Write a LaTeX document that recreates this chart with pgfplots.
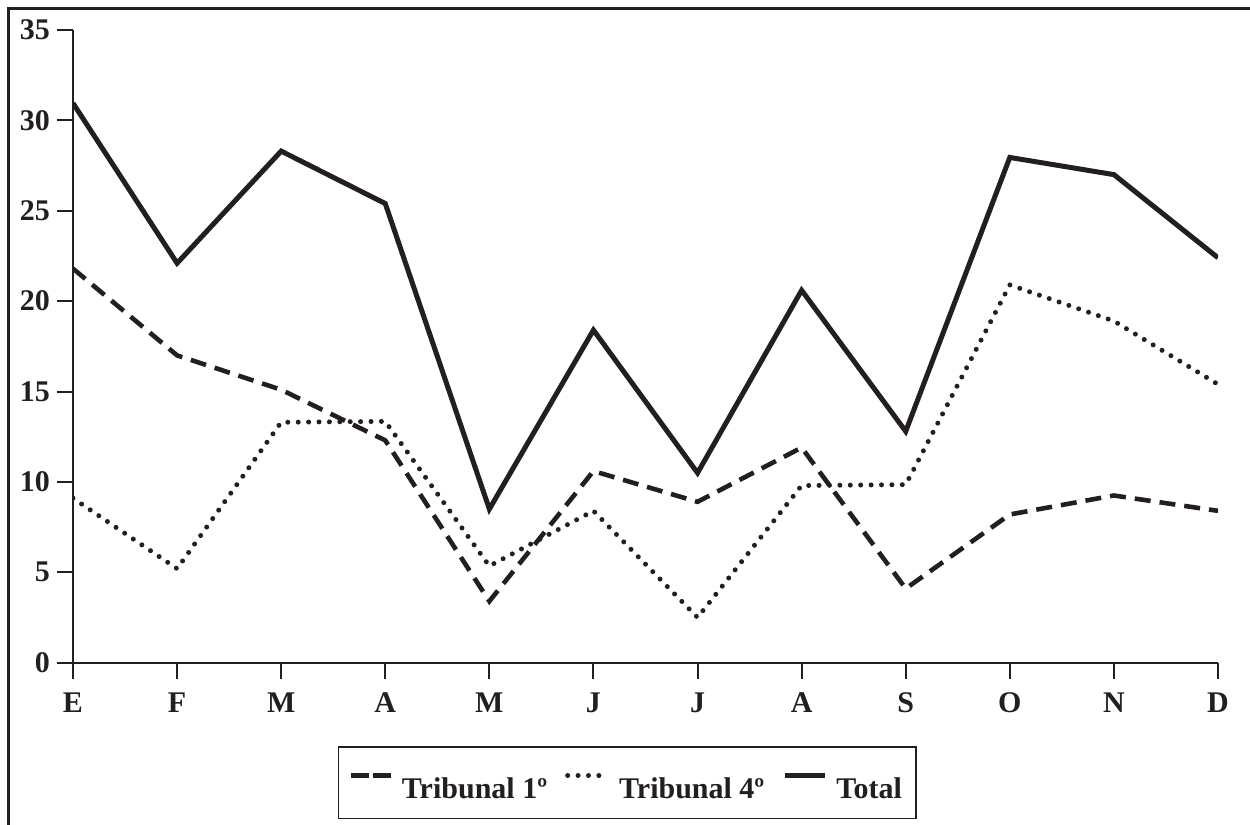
\documentclass[border=0pt]{standalone}
\usepackage{pgfplots}
\pgfplotsset{compat=1.18}
\usepackage{fontspec}
\setmainfont{Liberation Serif}
\definecolor{ink}{RGB}{35,31,32}
\begin{document}
\begin{tikzpicture}
\path[use as bounding box] (0,0) rectangle (625pt,-412.5pt);
\draw[ink,line width=1.1pt] (4.2pt,-420pt) -- (4.2pt,-4.2pt) -- (630pt,-4.2pt);
\begin{axis}[
  at={(36.5pt,-331.35pt)}, anchor=origin,
  scale only axis, width=572.5pt, height=316.35pt,
  xmin=0, xmax=11, ymin=0, ymax=35,
  axis lines=left,
  axis line style={-, ink, line width=1pt},
  every tick/.style={ink, line width=1pt},
  tick align=outside,
  major tick length=8pt,
  xtick={0,...,11},
  xticklabels={E,F,M,A,M,J,J,A,S,O,N,D},
  ytick={0,5,...,35},
  tick label style={font=\fontsize{15}{18}\selectfont\bfseries, text=ink},
  xticklabel style={yshift=-3.5pt},
  yticklabel style={xshift=0pt},
  /pgf/number format/assume math mode=true,
  legend columns=-1,
  legend style={at={(0.484,-0.132)}, anchor=north, draw=ink, line width=0.8pt,
    font=\fontsize{15}{18}\selectfont\bfseries, text=ink,
    inner xsep=5pt, inner ysep=6.5pt},
  legend image code/.code={\draw[#1] (0pt,7pt) -- (20pt,7pt); \path (0pt,13.5pt) (22.5pt,7pt);},
  /tikz/every even column/.append style={column sep=7pt},
]
\addplot[ink, line width=2.3pt, dash pattern=on 8pt off 4.5pt,
  legend image post style={dash pattern=on 9pt off 2pt}] coordinates {
 (0,21.8) (1,17.0) (2,15.1) (3,12.3) (4,3.4) (5,10.6) (6,8.9) (7,11.9) (8,4.1) (9,8.2) (10,9.25) (11,8.4)};
\addlegendentry{Tribunal 1º}
\addplot[ink, line width=2.5pt, line cap=round, dash pattern=on 0pt off 5.2pt] coordinates {
 (0,9.1) (1,5.2) (2,13.3) (3,13.35) (4,5.35) (5,8.4) (6,2.5) (7,9.8) (8,9.85) (9,20.9) (10,18.9) (11,15.4)};
\addlegendentry{Tribunal 4º}
\addplot[ink, line width=2.5pt] coordinates {
 (0,30.95) (1,22.1) (2,28.3) (3,25.4) (4,8.5) (5,18.4) (6,10.5) (7,20.6) (8,12.8) (9,27.95) (10,27.0) (11,22.4)};
\addlegendentry{Total}
\end{axis}
\end{tikzpicture}
\end{document}
